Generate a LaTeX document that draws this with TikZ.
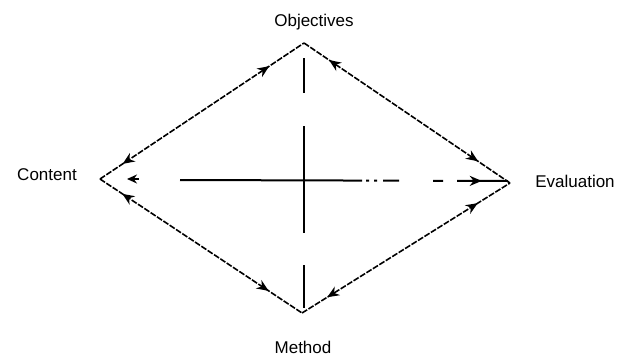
\documentclass[tikz,border=0pt]{standalone}
\usepackage{fontspec}
\setmainfont{Liberation Sans}
\usetikzlibrary{arrows.meta,decorations.markings}
\tikzset{
  lbl/.style={font=\fontsize{17}{19}\selectfont, inner sep=0pt},
  edge/.style={line width=1.6pt, dash pattern=on 6pt off 1.6pt},
  axis/.style={line width=2pt},
  twoway/.style 2 args={postaction={decorate, decoration={markings,
      mark=at position #1 with {\arrow{Stealth[length=12pt,width=10pt,reversed]}},
      mark=at position #2 with {\arrow{Stealth[length=12pt,width=10pt]}}}}}
}
\begin{document}
\begin{tikzpicture}[x=1pt,y=-1pt]
\useasboundingbox (0,0) rectangle (623,356);
% labels
\node[lbl] (obj) at (314,22) {Objectives};
\node[lbl] (con) at (47,175) {Content};
\node[lbl] (eva) at (575,181) {Evaluation};
\node[lbl] (met) at (303,347) {Method};
% vertices
\coordinate (T) at (304,43);
\coordinate (L) at (100,179);
\coordinate (R) at (510,183);
\coordinate (B) at (302,313);
% diamond edges
\draw[edge, twoway={0.16}{0.83}] (L) -- (T);
\draw[edge, twoway={0.17}{0.845}] (T) -- (R);
\draw[edge, twoway={0.17}{0.845}] (B) -- (R);
\draw[edge, twoway={0.16}{0.835}] (L) -- (B);
% vertical axis
\coordinate (vt) at (304,58);
\coordinate (vb) at (304,308);
\draw[axis, dash pattern=on 35pt off 33pt on 107pt off 32pt on 60pt] (vt) -- (vb);
% horizontal axis
\coordinate (hs) at (180,180);
\coordinate (he) at (508,181);
\draw[axis, dash pattern=on 182pt off 4pt on 3pt off 5pt on 3pt off 6pt on 16pt off 34pt on 10pt off 14pt on 80pt,
  postaction={decorate, decoration={markings, mark=at position 0.92 with {\arrow{Stealth[length=12pt,width=10pt]}}}}] (hs) -- (he);
\coordinate (ha) at (127,179);
\coordinate (hb) at (139,179);
\draw[line width=1.5pt, -{Stealth[length=10pt,width=9pt]}] (hb) -- (ha);
\end{tikzpicture}
\end{document}
